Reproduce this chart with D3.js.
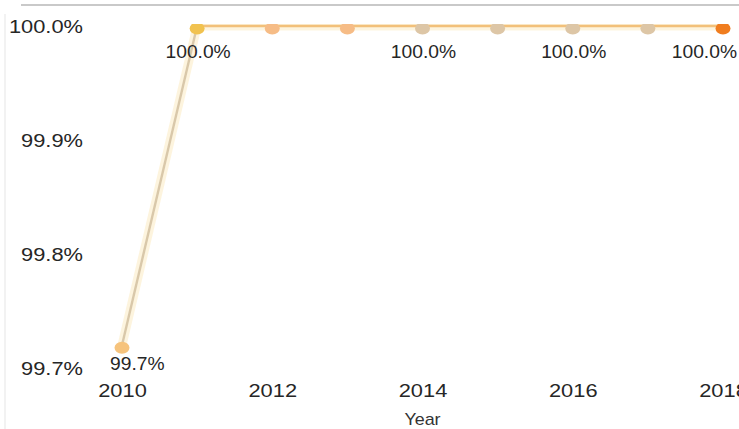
<!DOCTYPE html>
<html>
<head>
<meta charset="utf-8">
<script src="https://cdn.jsdelivr.net/npm/d3@7"></script>
<style>
  html, body { margin: 0; padding: 0; background: #fff; }
  svg { display: block; font-family: "Liberation Sans", Arial, sans-serif; }
</style>
</head>
<body>
<svg id="chart" width="739" height="429"></svg>
<script>
// Share of population (%) by year
const years = [2010, 2011, 2012, 2013, 2014, 2015, 2016, 2017, 2018];
const values = [99.72, 100.0, 100.0, 100.0, 100.0, 100.0, 100.0, 100.0, 100.0];
const yTicks = [99.7, 99.8, 99.9, 100.0];
const xTicks = [2010, 2012, 2014, 2016, 2018];
const labelledYears = [2010, 2011, 2014, 2016, 2018];
const xTitle = "Year";

// marker fill per point and stroke per segment
const markerColors = ["#f6c37c", "#f1c24f", "#f6bc86", "#f6bc86", "#ddc6a6", "#ddc6a6", "#ddc6a6", "#ddc6a6", "#f07d1f"];
const segmentColors = ["#d9c8aa", "#f2c07a", "#f2c07a", "#f2c07a", "#f2c07a", "#f2c07a", "#f2c07a", "#f2c07a"];

const W = 739, H = 429;
const svg = d3.select("#chart");

const x = d3.scaleLinear().domain([2010, 2018]).range([122, 723]);
const y = d3.scaleLinear().domain([99.7, 100.0]).range([368, 26]);

const fmt = d3.format(".1f");
const pct = v => fmt(v) + "%";
const stretch = 1.15;

// widen glyphs around their anchor point
function widen(sel, k) {
  sel.each(function () {
    const t = d3.select(this);
    const tx = +t.attr("x") || 0;
    t.attr("transform", `translate(${tx},0) scale(${k},1) translate(${-tx},0)`);
  });
}

// frame lines
svg.append("line").attr("x1", 21).attr("x2", W).attr("y1", 5).attr("y2", 5)
  .attr("stroke", "#c9c9c9").attr("stroke-width", 2);
svg.append("line").attr("x1", 5).attr("x2", 5).attr("y1", 14).attr("y2", H)
  .attr("stroke", "#eeeeee").attr("stroke-width", 1.5);

// y axis
const yAxis = svg.append("g").attr("transform", "translate(83,0)")
  .call(d3.axisLeft(y).tickValues(yTicks).tickFormat(pct).tickSize(0).tickPadding(0));
yAxis.select(".domain").remove();
yAxis.selectAll("text")
  .attr("fill", "#262626").attr("font-size", 19).attr("dy", "0.36em")
  .style("font-family", "'Liberation Sans', Arial, sans-serif")
  .call(widen, stretch);

// x axis
const xAxis = svg.append("g").attr("transform", `translate(0,${y(99.7)})`)
  .call(d3.axisBottom(x).tickValues(xTicks).tickFormat(d3.format("d")).tickSize(0).tickPadding(16));
xAxis.select(".domain").remove();
xAxis.selectAll("text")
  .attr("fill", "#262626").attr("font-size", 19)
  .style("font-family", "'Liberation Sans', Arial, sans-serif")
  .call(widen, stretch);

svg.append("text")
  .attr("x", x(2014)).attr("y", 425)
  .attr("text-anchor", "middle")
  .attr("font-size", 16).attr("fill", "#333")
  .text(xTitle)
  .call(widen, 1.12);

// plot clip
svg.append("defs").append("clipPath").attr("id", "plot-clip")
  .append("rect").attr("x", 90).attr("y", 24).attr("width", W - 90).attr("height", 360);

const pts = years.map((yr, i) => ({ year: yr, value: values[i], i }));
const plot = svg.append("g").attr("clip-path", "url(#plot-clip)");
const line = d3.line().x(d => x(d.year)).y(d => y(d.value));

const segs = d3.pairs(pts);

// soft halo under the series
plot.selectAll("path.halo").data(segs).join("path")
  .attr("class", "halo")
  .attr("d", line)
  .attr("fill", "none").attr("stroke", "#fdf1d6").attr("stroke-width", 9)
  .attr("stroke-linecap", "round").attr("opacity", 0.8);

plot.selectAll("path.seg").data(segs).join("path")
  .attr("class", "seg")
  .attr("d", line)
  .attr("fill", "none")
  .attr("stroke", (d, i) => segmentColors[i])
  .attr("stroke-width", 2.4);

plot.selectAll("ellipse.pt").data(pts).join("ellipse")
  .attr("class", "pt")
  .attr("cx", d => x(d.year)).attr("cy", d => y(d.value) + 2.5)
  .attr("rx", 7.5).attr("ry", 6)
  .attr("fill", d => markerColors[d.i]);

// value labels
const labelPts = pts.filter(d => labelledYears.includes(d.year));
const last = labelPts.length - 1;
svg.selectAll("text.val").data(labelPts).join("text")
  .attr("class", "val")
  .attr("x", (d, i) => i === 0 ? x(d.year) - 12 : i === last ? W - 2 : x(d.year) + 1)
  .attr("y", d => Math.min(y(d.value) + 32, y(99.7) + 2))
  .attr("text-anchor", (d, i) => i === 0 ? "start" : i === last ? "end" : "middle")
  .attr("font-size", 17.5).attr("fill", "#262626")
  .text(d => pct(d.value))
  .call(widen, 1.1);
</script>
</body>
</html>
